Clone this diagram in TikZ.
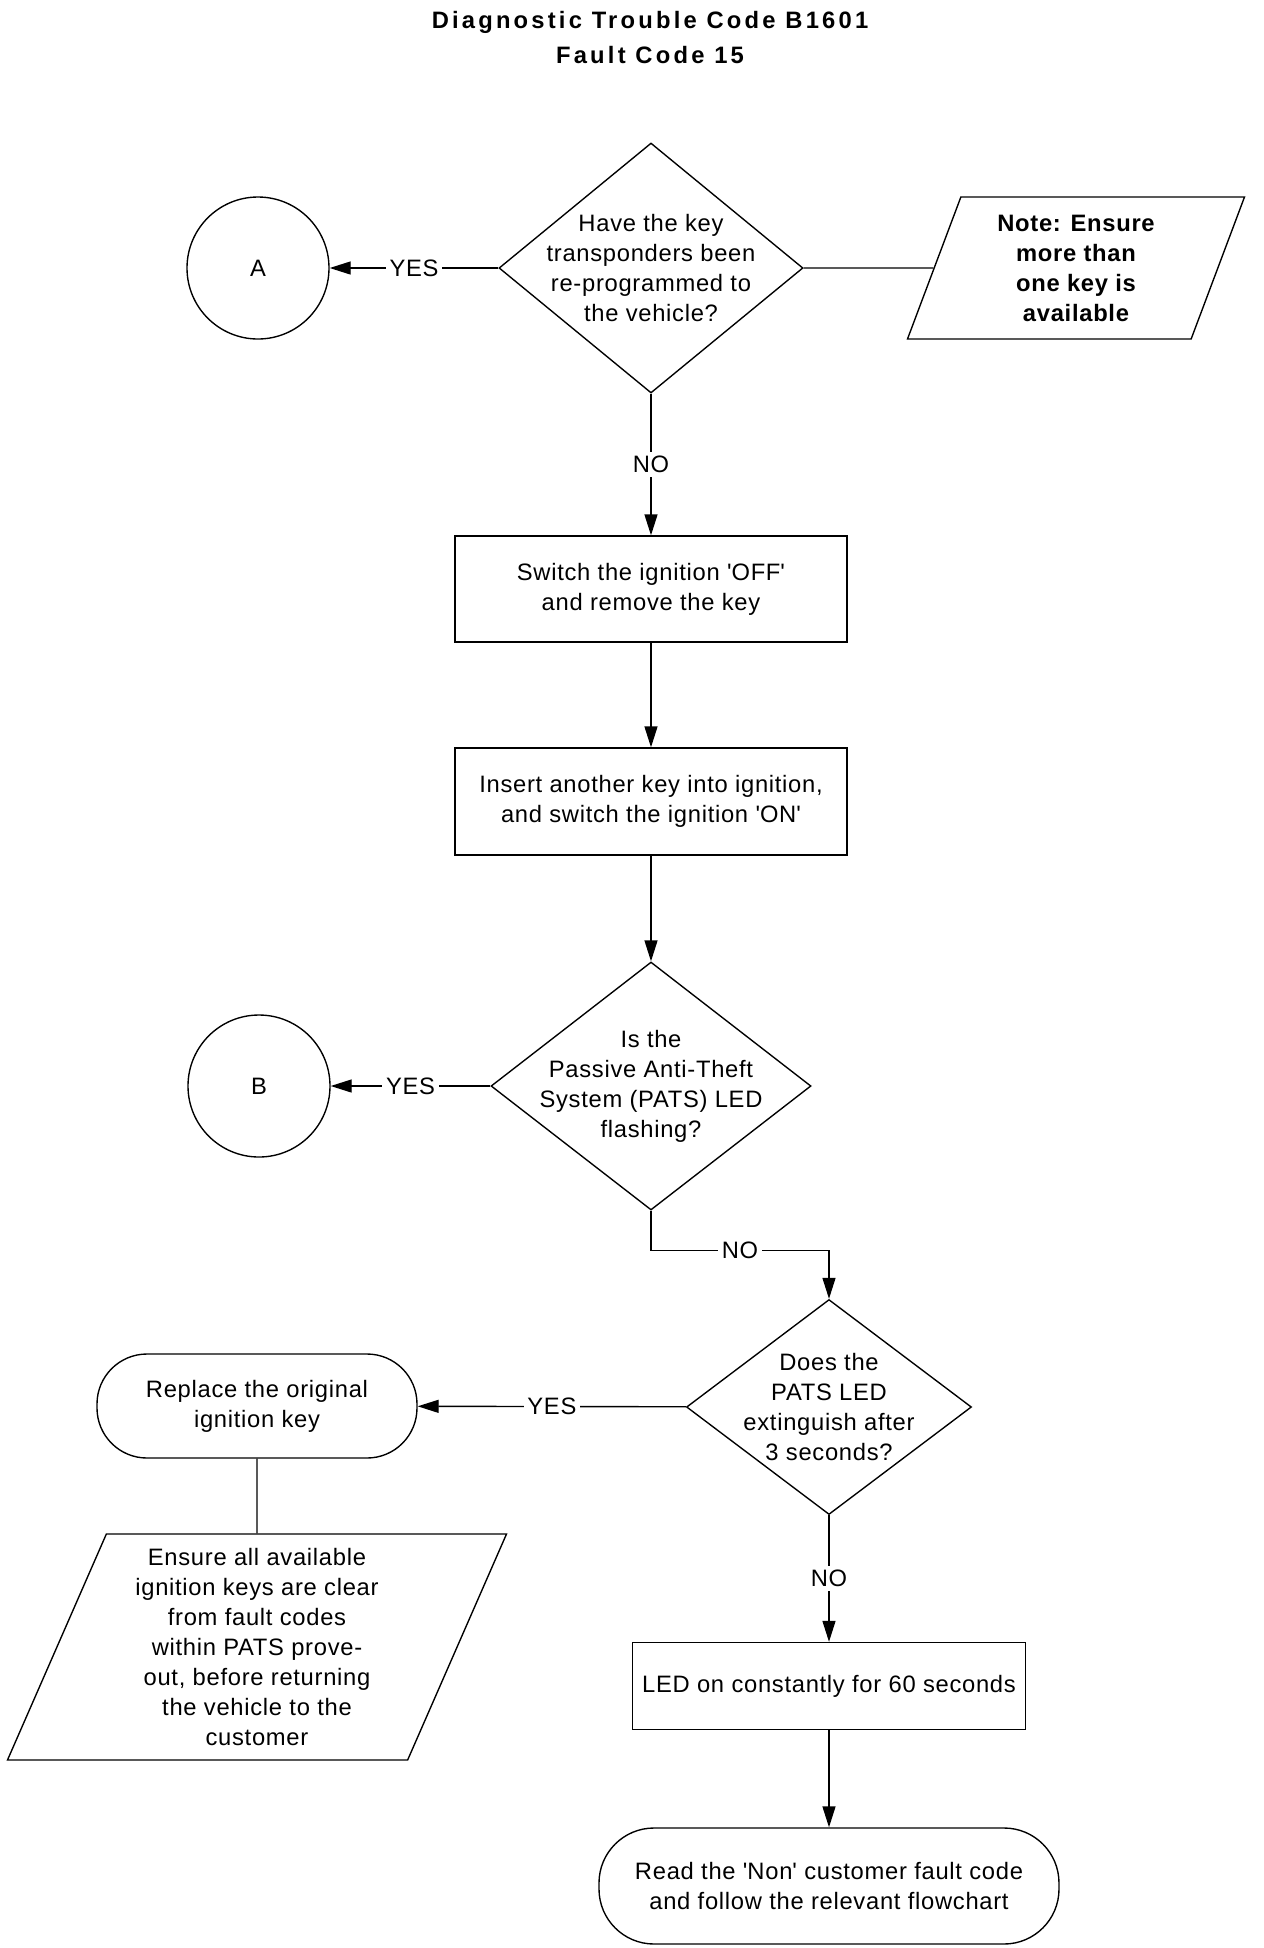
\documentclass[tikz,border=0pt]{standalone}
\usepackage{fontspec}
\setmainfont{Liberation Sans}[LetterSpace=3]
\usetikzlibrary{shapes.geometric,arrows.meta}

\begin{document}
\begin{tikzpicture}[x=0.4pt, y=-0.4pt, line width=0.55pt,
  font=\fontsize{9.5}{12}\selectfont,
  arr/.style={-{Triangle[length=8.4pt,width=5.2pt]}},
  lbl/.style={fill=white, inner sep=1.5pt},
  decision/.style={draw, diamond, inner sep=0pt},
  procbox/.style={draw, rectangle, minimum width=156.8pt, align=center},
  connector/.style={draw, circle, minimum size=56.8pt, inner sep=0pt},
  terminal/.style={draw, rectangle, rounded corners=20pt, align=center},
  datanote/.style={draw, trapezium, trapezium left angle=63.4, trapezium right angle=116.6,
    trapezium stretches body, align=center, inner sep=0pt}]
\useasboundingbox (0,0) rectangle (1264,1948);

% Title
\node[align=center, font=\fontsize{9.5}{14}\selectfont\bfseries\addfontfeature{LetterSpace=13.5}] (title) at (650,38)
  {Diagnostic Trouble Code B1601\\Fault Code 15};

% Key transponder question
\node[decision, minimum width=121.6pt, minimum height=100pt,
  label={[align=center]center:{Have the key\\transponders been\\re-programmed to\\the vehicle?}}] (keyq) at (651,268) {};
\node[connector] (conA) at (258,268) {A};
\node[datanote, minimum width=134.8pt, minimum height=56.8pt, font=\fontsize{9.5}{12}\selectfont\bfseries] (note) at (1076,268)
  {Note: Ensure\\more than\\one key is\\available};
\draw[arr] (keyq) -- node[lbl]{YES} (conA);
\draw (keyq) -- (note);

% Ignition steps
\node[procbox, minimum height=42.4pt] (offbox) at (651,589)
  {Switch the ignition \textquotesingle OFF\textquotesingle\\and remove the key};
\node[procbox, minimum height=42.8pt] (onbox) at (651,801.5)
  {Insert another key into ignition,\\and switch the ignition \textquotesingle ON\textquotesingle};
\draw[arr] (keyq) -- node[lbl]{NO} (offbox);
\draw[arr] (offbox) -- (onbox);

% PATS LED flashing
\node[decision, minimum width=128pt, minimum height=99.2pt,
  label={[align=center]center:{Is the\\Passive Anti-Theft\\System (PATS) LED\\flashing?}}] (patsq) at (651,1086) {};
\node[connector] (conB) at (259,1086) {B};
\draw[arr] (onbox) -- (patsq);
\draw[arr] (patsq) -- node[lbl]{YES} (conB);

% PATS LED extinguish
\node[decision, minimum width=114pt, minimum height=86pt,
  label={[align=center]center:{Does the\\PATS LED\\extinguish after\\3 seconds?}}] (extq) at (829,1407) {};
\draw[arr] (patsq.south) -- ++(0,40) -| node[lbl, pos=0.25]{NO} (extq.north);

% Replace key branch
\node[terminal, minimum width=128pt, minimum height=41.6pt] (replkey) at (257,1406) {Replace the original\\ignition key};
\node[datanote, minimum width=199.6pt, minimum height=90.4pt] (ensure) at (257,1647)
  {Ensure all available\\ignition keys are clear\\from fault codes\\within PATS prove-\\out, before returning\\the vehicle to the\\customer};
\draw[arr] (extq) -- node[lbl]{YES} (replkey);
\draw (replkey) -- (ensure);

% LED constantly on
\node[procbox, minimum width=157.2pt, minimum height=34.8pt] (ledbox) at (829,1686) {LED on constantly for 60 seconds};
\node[terminal, rounded corners=22pt, minimum width=184pt, minimum height=46.4pt] (readcode) at (829,1886)
  {Read the \textquotesingle Non\textquotesingle\ customer fault code\\and follow the relevant flowchart};
\draw[arr] (extq) -- node[lbl]{NO} (ledbox);
\draw[arr] (ledbox) -- (readcode);
\end{tikzpicture}
\end{document}
